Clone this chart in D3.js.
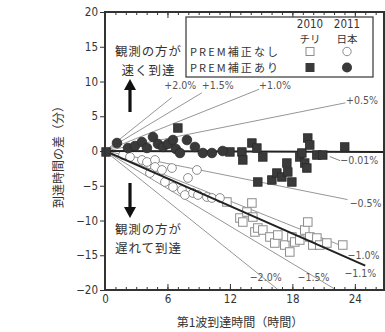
<!DOCTYPE html>
<html>
<head>
<meta charset="utf-8">
<script src="https://cdn.jsdelivr.net/npm/d3@7/dist/d3.min.js"></script>
<style>
  html, body { margin: 0; padding: 0; background: #fff; }
  svg { display: block; }
  .num { font-family: "Liberation Sans Narrow", "DejaVu Sans Condensed", "Noto Sans", sans-serif; }
  .jp { font-family: "Noto Sans CJK JP", "Noto Sans", sans-serif; }
</style>
</head>
<body>
<svg id="chart" width="385" height="332"></svg>
<script>
// Travel time of the first wave (hours) and arrival-time difference (minutes)
// 2011 Japan, with PREM correction (filled circles)
const japanCorrT = [1.15, 2.21, 2.88, 3.55, 4.03, 4.61, 5.09, 5.57, 6.05, 6.53, 6.81, 7.20, 7.87, 8.64, 9.40, 10.27, 11.3];
const japanCorrV = [1.15, 0.43, 0.72, 1.29, 0.43, 2.01, 1.01, 0.58, 1.01, 1.58, 0.29, -0.29, 1.58, 0.58, -0.29, -0.29, 0.0];

// 2010 Chile, with PREM correction (filled squares)
const chileCorrT = [0.1, 7.0, 12.0, 13.15, 13.24, 14.11, 14.59, 15.16, 16.03, 14.68, 16.51, 16.99, 17.47, 17.56, 17.95, 18.71, 18.91, 19.19, 19.39, 19.48, 19.67, 20.35, 20.92, 23.03];
const chileCorrV = [-0.14, 3.31, -0.14, -0.14, -1.29, 1.15, 0.43, -0.86, -4.17, -4.46, -3.17, -3.74, -1.73, -3.02, -4.46, -0.86, -0.29, -1.73, -2.45, 1.87, 0.86, -0.58, -0.58, 0.58];

// 2011 Japan, without correction (open circles)
const japanRawT = [1.73, 2.40, 3.55, 4.03, 4.80, 4.80, 5.47, 4.32, 5.76, 6.43, 6.53, 7.39, 7.97, 7.68, 8.45, 8.93, 8.83, 9.79, 10.27, 11.04];
const japanRawV = [-0.58, -0.86, -1.29, -1.58, -1.29, -2.30, -2.73, -3.17, -4.46, -2.45, -5.18, -5.61, -3.88, -6.33, -6.04, -6.33, -2.73, -6.62, -6.76, -6.76];

// 2010 Chile, without correction (open squares)
const chileRawT = [11.71, 12.96, 13.24, 13.63, 14.11, 14.20, 14.40, 14.68, 15.16, 15.84, 16.31, 16.60, 17.27, 17.75, 17.95, 18.23, 18.71, 19.19, 19.48, 19.67, 19.96, 20.35, 20.63, 21.31, 22.84];
const chileRawV = [-7.34, -9.64, -10.22, -8.78, -7.48, -9.50, -11.65, -11.08, -11.37, -12.37, -13.24, -12.09, -13.53, -14.53, -12.37, -13.09, -12.81, -11.37, -10.22, -12.37, -13.53, -12.52, -13.53, -13.24, -13.53];

// Reference lines: delay as a percentage of travel time
const refPct    = [2.0, 1.5, 1.0, 0.5, -0.01, -0.5, -1.0, -1.1, -1.5, -2.0];
const refLabels = ["+2.0%", "+1.5%", "+1.0%", "+0.5%", "\u22120.01%", "\u22120.5%", "\u22121.0%", "\u22121.1%", "\u22121.5%", "\u22122.0%"];
const refEndT   = [6.4, 9.3, 14.8, 23.1, 26.8, 23.3, 22.9, 25.0, 22.3, 16.7];
const refBold   = [false, false, false, false, true, false, false, true, false, false];
const refLabelT = [5.7, 9.3, 14.8, 23.15, 22.6, 23.5, 23.3, 23.0, 18.5, 13.9];
const refLabelV = [8.9, 8.9, 8.9, 6.7, -1.9, -8.1, -15.5, -18.2, -18.7, -18.7];

const xTicks = [0, 6, 12, 18, 24];
const yTicks = [-20, -15, -10, -5, 0, 5, 10, 15, 20];

const svg = d3.select("#chart");
const x = d3.scaleLinear().domain([0, 26.8]).range([105, 384]);
const y = d3.scaleLinear().domain([-20, 20]).range([290, 12]);
const toMin = (pct, t) => pct / 100 * t * 60;

svg.append("defs").append("clipPath").attr("id", "plot")
  .append("rect").attr("x", 105).attr("y", 12).attr("width", 279).attr("height", 278);

const ink = "#333";

// thin reference lines
const gLines = svg.append("g").attr("clip-path", "url(#plot)");
const line = d3.line().x(d => x(d[0])).y(d => y(d[1]));
refPct.forEach((p, i) => {
  if (refBold[i]) return;
  gLines.append("path")
    .attr("d", line([[0, 0], [refEndT[i], toMin(p, refEndT[i])]]))
    .attr("fill", "none").attr("stroke", "#8a8a8a").attr("stroke-width", 0.9);
});
// short leader to the -0.01% label
gLines.append("path")
  .attr("d", line([[21.6, -0.8], [22.6, -1.4]]))
  .attr("fill", "none").attr("stroke", "#777").attr("stroke-width", 0.9);

// open markers
const sq = 8.5;
svg.append("g").selectAll("rect").data(chileRawT.map((t, i) => [t, chileRawV[i]])).join("rect")
  .attr("x", d => x(d[0]) - sq / 2).attr("y", d => y(d[1]) - sq / 2)
  .attr("width", sq).attr("height", sq)
  .attr("fill", "#fff").attr("stroke", "#8c8c8c").attr("stroke-width", 1);
svg.append("g").selectAll("circle").data(japanRawT.map((t, i) => [t, japanRawV[i]])).join("circle")
  .attr("cx", d => x(d[0])).attr("cy", d => y(d[1])).attr("r", 4.4)
  .attr("fill", "#fff").attr("stroke", "#8c8c8c").attr("stroke-width", 1);

// bold fitted lines, drawn over the open markers
const gBold = svg.append("g").attr("clip-path", "url(#plot)");
refPct.forEach((p, i) => {
  if (!refBold[i]) return;
  gBold.append("path")
    .attr("d", line([[0, 0], [refEndT[i], toMin(p, refEndT[i])]]))
    .attr("fill", "none").attr("stroke", "#222").attr("stroke-width", 2);
});

// filled markers
svg.append("g").selectAll("rect").data(chileCorrT.map((t, i) => [t, chileCorrV[i]])).join("rect")
  .attr("x", d => x(d[0]) - sq / 2).attr("y", d => y(d[1]) - sq / 2)
  .attr("width", sq).attr("height", sq)
  .attr("fill", "#3a3a3a").attr("stroke", "#2a2a2a").attr("stroke-width", 0.8);
svg.append("g").selectAll("circle").data(japanCorrT.map((t, i) => [t, japanCorrV[i]])).join("circle")
  .attr("cx", d => x(d[0])).attr("cy", d => y(d[1])).attr("r", 4.8)
  .attr("fill", "#3a3a3a").attr("stroke", "#2a2a2a").attr("stroke-width", 0.8);

// percentage labels
svg.append("g").selectAll("text").data(refLabels).join("text")
  .attr("class", "num")
  .attr("x", (d, i) => x(refLabelT[i])).attr("y", (d, i) => y(refLabelV[i]))
  .attr("font-size", 10.5).attr("fill", "#555")
  .text(d => d);

// axes
const axisStyle = g => {
  g.select(".domain").remove();
  g.selectAll("line").attr("stroke", ink).attr("stroke-width", 1);
  g.selectAll("text").attr("class", "num").attr("font-size", 11.5).attr("fill", ink);
};
svg.append("g").attr("transform", "translate(105,0)")
  .call(d3.axisLeft(y).tickValues(yTicks).tickSize(5).tickPadding(2))
  .call(axisStyle);
svg.append("g").attr("transform", "translate(384,0)")
  .call(d3.axisLeft(y).tickValues(yTicks.slice(1, -1)).tickSize(-6).tickFormat(""))
  .call(axisStyle);
svg.append("g").attr("transform", "translate(0,290)")
  .call(d3.axisBottom(x).tickValues(xTicks).tickSize(-6).tickPadding(5).tickFormat(d3.format("d")))
  .call(axisStyle);
svg.append("g").attr("transform", "translate(0,290)")
  .call(d3.axisBottom(x).tickValues(d3.range(1, 27)).tickSize(-3).tickFormat(""))
  .call(axisStyle);
svg.append("g").attr("transform", "translate(0,12)")
  .call(d3.axisTop(x).tickValues(d3.range(1, 27)).tickSize(-3).tickFormat(""))
  .call(axisStyle);
svg.append("g").attr("transform", "translate(0,12)")
  .call(d3.axisTop(x).tickValues(xTicks.slice(1)).tickSize(-6).tickFormat(""))
  .call(axisStyle);

// frame
svg.append("rect").attr("x", 105).attr("y", 12).attr("width", 279).attr("height", 278)
  .attr("fill", "none").attr("stroke", ink).attr("stroke-width", 2);

// axis titles
svg.append("text").attr("class", "jp")
  .attr("transform", "translate(63,154) rotate(-90)")
  .attr("text-anchor", "middle").attr("font-size", 12).attr("fill", ink)
  .text("到達時間の差（分）");
svg.append("text").attr("class", "jp")
  .attr("x", 240).attr("y", 327).attr("text-anchor", "middle")
  .attr("font-size", 12).attr("fill", ink)
  .text("第1波到達時間（時間）");

// single-line text helper
const label = (g, cls, xc, yb, s, size, anchor, width) => {
  const t = g.append("text").attr("class", cls).attr("x", xc).attr("y", yb)
    .attr("font-size", size).attr("fill", ink).attr("text-anchor", anchor).text(s);
  if (width) t.attr("textLength", width).attr("lengthAdjust", "spacing");
  return t;
};

// direction notes with arrows
label(svg, "jp", 148, 56, "観測の方が", 12.5, "middle", 66);
label(svg, "jp", 148, 74.5, "速く到達", 12.5, "middle", 53);
label(svg, "jp", 148, 234, "観測の方が", 12.5, "middle", 66);
label(svg, "jp", 148, 252.5, "遅れて到達", 12.5, "middle", 66);
const arrow = (xc, yTail, yTip) => {
  const dir = yTip < yTail ? -1 : 1;
  svg.append("line").attr("x1", xc).attr("x2", xc)
    .attr("y1", yTail).attr("y2", yTip - dir * 8)
    .attr("stroke", "#111").attr("stroke-width", 3.2);
  svg.append("path")
    .attr("d", `M${xc - 6},${yTip - dir * 11}L${xc + 6},${yTip - dir * 11}L${xc},${yTip}Z`)
    .attr("fill", "#111");
};
arrow(130, 112, 79);
arrow(130, 183, 218);

// legend
const lg = svg.append("g");
lg.append("rect").attr("x", 186).attr("y", 17).attr("width", 187).attr("height", 60)
  .attr("fill", "#fff").attr("stroke", "#444").attr("stroke-width", 1.3);
const colX = [310, 347];
const colYear = ["2010", "2011"];
const colPlace = ["チリ", "日本"];
colX.forEach((cx, i) => {
  label(lg, "num", cx, 28, colYear[i], 11.5, "middle");
  label(lg, "jp", cx, 42.5, colPlace[i], 10.5, "middle");
});
const rowY = [51.5, 67.5];
const rowText = ["PREM補正なし", "PREM補正あり"];
rowText.forEach((s, i) => label(lg, "jp", 190, rowY[i] + 4, s, 11, "start", 88));
lg.append("rect").attr("x", colX[0] - 4).attr("y", rowY[0] - 4).attr("width", 8).attr("height", 8)
  .attr("fill", "#fff").attr("stroke", "#8c8c8c");
lg.append("circle").attr("cx", colX[1]).attr("cy", rowY[0]).attr("r", 4.2)
  .attr("fill", "#fff").attr("stroke", "#8c8c8c");
lg.append("rect").attr("x", colX[0] - 4.5).attr("y", rowY[1] - 4.5).attr("width", 9).attr("height", 9)
  .attr("fill", "#3a3a3a");
lg.append("circle").attr("cx", colX[1]).attr("cy", rowY[1]).attr("r", 5)
  .attr("fill", "#3a3a3a");
</script>
</body>
</html>
